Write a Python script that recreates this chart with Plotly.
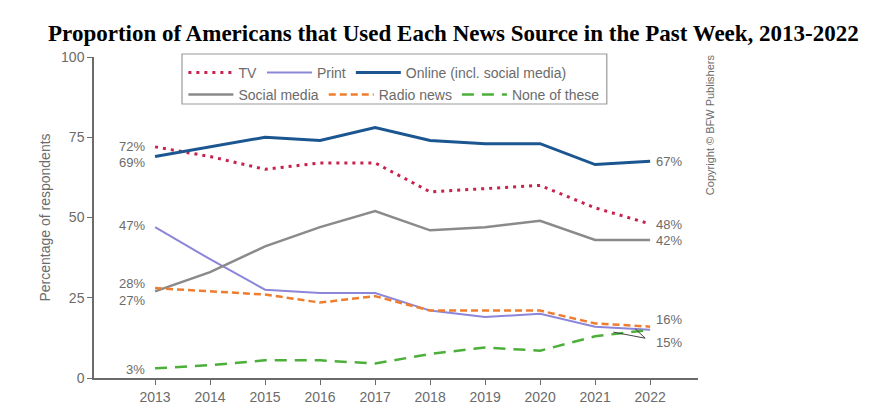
import plotly.graph_objects as go

years = [2013, 2014, 2015, 2016, 2017, 2018, 2019, 2020, 2021, 2022]

tv = [72, 69, 65, 67, 67, 58, 59, 60, 53, 48]
print_news = [47, 37, 27.5, 26.5, 26.5, 21, 19, 20, 16, 15]
online = [69, 72, 75, 74, 78, 74, 73, 73, 66.5, 67.5]
social = [27, 33, 41, 47, 52, 46, 47, 49, 43, 43]
radio = [28, 27, 26, 23.5, 25.5, 21, 21, 21, 17, 16]
none_of_these = [3, 4, 5.5, 5.5, 4.5, 7.5, 9.5, 8.5, 13, 15]

ticks_y = [0, 25, 50, 75, 100]

GRAY = "#6b6b6b"
FONT = "Liberation Sans, Arial, sans-serif"

fig = go.Figure()

series = [
    ("TV", tv, "#c8214d", "3px,5px", 3, "legend"),
    ("Print", print_news, "#8c86d9", "solid", 2, "legend"),
    ("Online (incl. social media)", online, "#1b5690", "solid", 3, "legend"),
    ("Social media", social, "#8a8a8a", "solid", 2.5, "legend2"),
    ("Radio news", radio, "#ef7d2d", "7px,4px", 2.5, "legend2"),
    ("None of these", none_of_these, "#4caf3a", "12px,8px", 2.5, "legend2"),
]
for name, vals, color, dash, width, leg in series:
    fig.add_trace(go.Scatter(
        x=years, y=vals, name=name, mode="lines",
        line=dict(color=color, dash=dash, width=width),
        legend=leg, cliponaxis=False,
    ))

# start / end value labels
lab_font = dict(size=13, color=GRAY, family=FONT)
left_labels = [(tv[0], "72%", 0), (online[0], "69%", -6), (print_news[0], "47%", 2),
               (radio[0], "28%", 5), (social[0], "27%", -9), (none_of_these[0], "3%", -1)]
for y, txt, dy in left_labels:
    fig.add_annotation(x=years[0], y=y, text=txt, showarrow=False, xanchor="right",
                       xshift=-8, yshift=dy, font=lab_font)

right_labels = [(online[-1], "67%", 0), (tv[-1], "48%", -1), (social[-1], "42%", -1),
                (radio[-1], "16%", 7), (print_news[-1] - 4, "15%", 0)]
for y, txt, dy in right_labels:
    fig.add_annotation(x=years[-1], y=y, text=txt, showarrow=False, xanchor="left",
                       xshift=4, yshift=dy, font=lab_font)

# 15% callout lines pointing at print and none-of-these
for x1, y1 in [(2021.73, 15.3), (2021.33, 14.3)]:
    fig.add_shape(type="line", x0=2021.91, y0=12.4, x1=x1, y1=y1,
                  line=dict(color="#444", width=1))

# legend border
fig.add_shape(type="rect", xref="paper", yref="paper", x0=0.1457, x1=0.849,
              y0=0.8536, y1=1.0093, line=dict(color="#999", width=1.2),
              fillcolor="rgba(0,0,0,0)")

fig.add_annotation(xref="paper", yref="paper", x=1.02, y=0.788, text="Copyright © BFW Publishers",
                   textangle=-90, showarrow=False, xanchor="center", yanchor="middle",
                   font=dict(size=11, color=GRAY, family=FONT))

legend_style = dict(orientation="h", xanchor="left", yanchor="top", bgcolor="rgba(0,0,0,0)",
                    font=dict(size=14, color=GRAY, family=FONT), itemwidth=45,
                    tracegroupgap=0)

fig.update_layout(
    width=882, height=409,
    margin=dict(l=86, r=192, t=49, b=39),
    plot_bgcolor="white", paper_bgcolor="white",
    title=dict(text="<b>Proportion of Americans that Used Each News Source in the Past Week, 2013-2022</b>",
               x=0.505, xanchor="center", y=0.939, yanchor="middle",
               font=dict(family="Liberation Serif, Times New Roman, serif", size=23, color="black")),
    legend=dict(x=0.148, y=1.0, **legend_style),
    legend2=dict(x=0.148, y=0.932, **legend_style),
    xaxis=dict(range=[2011.89, 2022.87], tickvals=years, ticks="outside", ticklen=5,
               tickcolor=GRAY, showline=True, linecolor=GRAY, linewidth=1.5,
               showgrid=False, zeroline=False,
               tickfont=dict(size=14, color=GRAY, family=FONT)),
    yaxis=dict(range=[0, 100], tickvals=ticks_y, ticks="outside", ticklen=5,
               tickcolor=GRAY, showline=True, linecolor=GRAY, linewidth=1.5,
               showgrid=False, zeroline=False,
               title=dict(text="Percentage of respondents", standoff=7,
                          font=dict(size=14, color=GRAY, family=FONT)),
               tickfont=dict(size=14, color=GRAY, family=FONT)),
)

fig.write_html("out.html")
